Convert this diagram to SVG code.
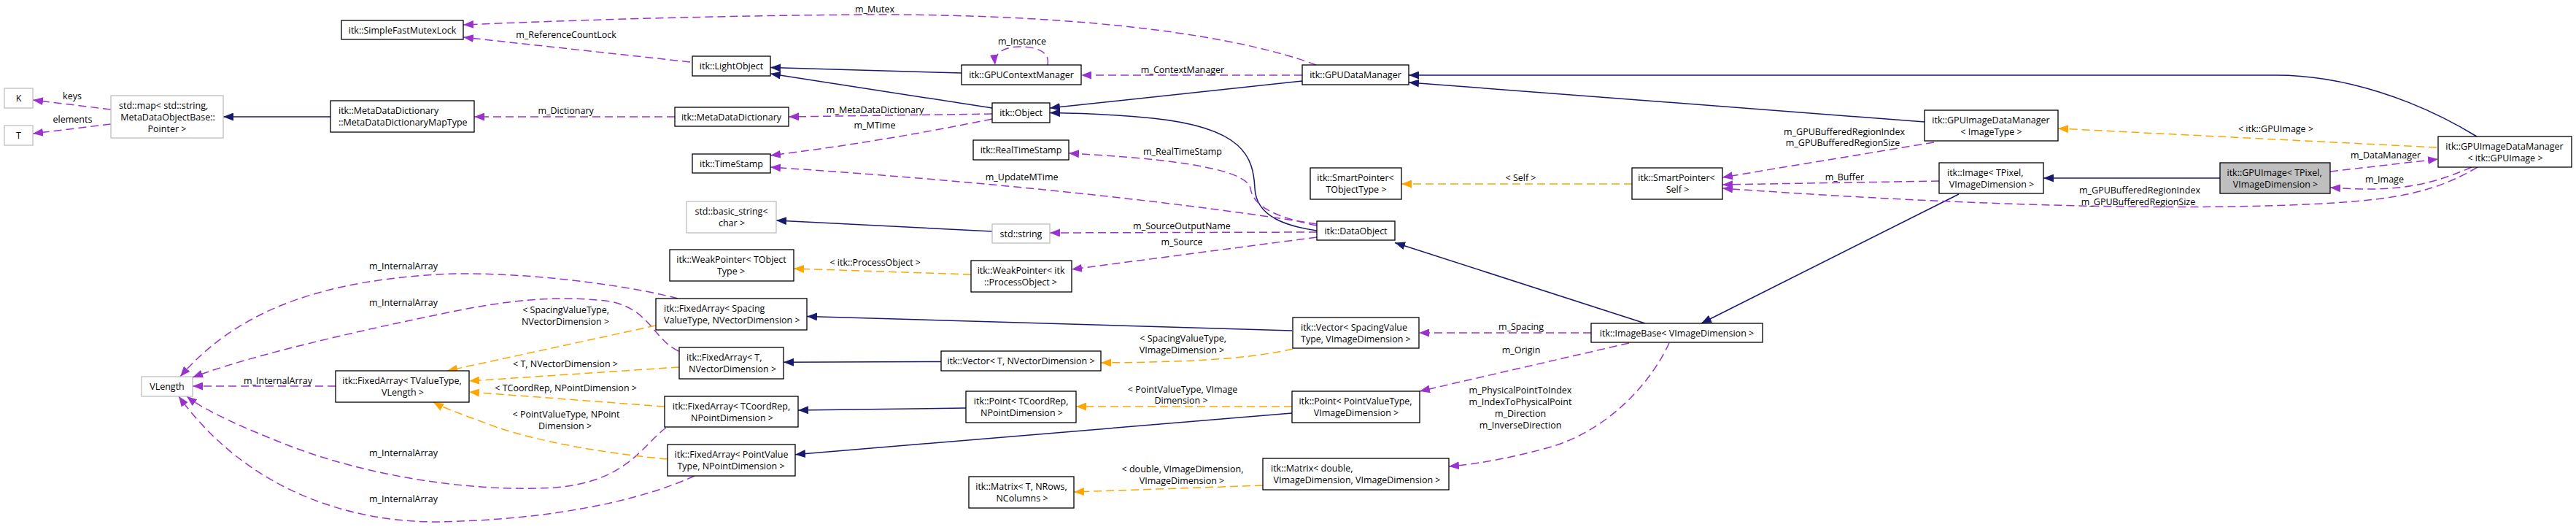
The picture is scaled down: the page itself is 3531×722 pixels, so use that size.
<svg xmlns="http://www.w3.org/2000/svg" width="3531" height="722" viewBox="0 0 3531 722">
<defs>
<style>
text{font-family:"Open Sans","DejaVu Sans",sans-serif;font-size:12.5px;fill:#000}
.m{text-anchor:middle}
.s{text-anchor:start}
.box{fill:#fff;stroke:#000;stroke-width:1.3}
.gbox{fill:#fff;stroke:#bfbfbf;stroke-width:1.3}
.sel{fill:#bfbfbf;stroke:#000;stroke-width:1.3}
.inh{fill:none;stroke:#191970;stroke-width:1.5;marker-end:url(#aN)}
.use{fill:none;stroke:#9a32cd;stroke-width:1.5;stroke-dasharray:11,6;marker-end:url(#aP)}
.tpl{fill:none;stroke:#ffa500;stroke-width:1.5;stroke-dasharray:11,6;marker-end:url(#aO)}
</style>
<marker id="aN" markerUnits="userSpaceOnUse" markerWidth="14" markerHeight="11" viewBox="0 0 14 11" refX="14" refY="5.5" orient="auto"><path d="M0,0 L14,5.5 L0,11 z" fill="#191970"/></marker>
<marker id="aP" markerUnits="userSpaceOnUse" markerWidth="14" markerHeight="11" viewBox="0 0 14 11" refX="14" refY="5.5" orient="auto"><path d="M0,0 L14,5.5 L0,11 z" fill="#9a32cd"/></marker>
<marker id="aO" markerUnits="userSpaceOnUse" markerWidth="14" markerHeight="11" viewBox="0 0 14 11" refX="14" refY="5.5" orient="auto"><path d="M0,0 L14,5.5 L0,11 z" fill="#ffa500"/></marker>
</defs>
<rect width="3531" height="722" fill="#fff"/>

<g id="connectors">
<path class="inh" d="M453,160 L306,160"/>
<path class="inh" d="M1318,100 L1056,92.5"/>
<path class="inh" d="M1360,148 L1056,101"/>
<path class="inh" d="M1785,111 L1439,148"/>
<path class="inh" d="M1805,316 C1765,310 1722,298 1720,258 C1718,215 1705,175 1580,162 C1530,157 1480,155 1439,154.5"/>
<path class="inh" d="M2638,167 L1931,113"/>
<path class="inh" d="M3395,187 C3310,135 3210,103 3120,103 L1931,103"/>
<path class="inh" d="M1360,317 L1064,302"/>
<path class="inh" d="M1771,453 L1106,433.5"/>
<path class="inh" d="M1290,495.5 L1074,496.3"/>
<path class="inh" d="M1324,559 L1094,562"/>
<path class="inh" d="M1771,566 L1090,622.7"/>
<path class="inh" d="M2255,443 L1912,332.5"/>
<path class="inh" d="M2685,266 L2332,443"/>
<path class="inh" d="M3043,244 L2801,244"/>

<path class="use" d="M152,150 L45,137"/>
<text class="m" x="99" y="136">keys</text>
<path class="use" d="M152,170 L45,183"/>
<text class="m" x="99.5" y="168">elements</text>
<path class="use" d="M925,160 L650,160"/>
<text class="m" x="775.6" y="156">m_Dictionary</text>
<path class="use" d="M946,85 L635,51"/>
<text class="m" x="776" y="52">m_ReferenceCountLock</text>
<path class="use" d="M1804,89 C1700,50 1500,20 1200,20 C1000,21 800,27 635,34"/>
<text class="m" x="1199" y="17">m_Mutex</text>
<path class="use" d="M1436,89 C1440,68 1415,64 1398,64 C1380,64 1362,70 1364,89"/>
<text class="m" x="1401" y="61">m_Instance</text>
<path class="use" d="M1785,103 L1482,103"/>
<text class="m" x="1621" y="99.5">m_ContextManager</text>
<path class="use" d="M1360,156 L1081,160"/>
<text class="m" x="1199.6" y="155">m_MetaDataDictionary</text>
<path class="use" d="M1360,163 C1300,175 1200,195 1056,213"/>
<text class="m" x="1199" y="176">m_MTime</text>
<path class="use" d="M1805,307 C1700,290 1450,255 1056,229"/>
<text class="m" x="1400.6" y="247">m_UpdateMTime</text>
<path class="use" d="M1805,309 C1745,297 1718,282 1714,258 C1708,228 1580,216 1465,210"/>
<text class="m" x="1621" y="212">m_RealTimeStamp</text>
<path class="use" d="M1805,318 L1439,319"/>
<text class="m" x="1620" y="313.5">m_SourceOutputName</text>
<path class="use" d="M1805,325 L1469,369"/>
<text class="m" x="1620" y="336">m_Source</text>
<path class="use" d="M2651,195 L2361,243"/>
<text class="m" x="2528" y="184.5">m_GPUBufferedRegionIndex</text>
<text class="m" x="2526" y="200">m_GPUBufferedRegionSize</text>
<path class="use" d="M2658,248 L2361,253"/>
<text class="m" x="2528.4" y="247">m_Buffer</text>
<path class="use" d="M3396,229 C3340,262 3290,272 3200,278 C3000,290 2700,282 2361,258"/>
<text class="m" x="2933" y="265">m_GPUBufferedRegionIndex</text>
<text class="m" x="2931" y="281">m_GPUBufferedRegionSize</text>
<path class="use" d="M3194,235 L3342,218"/>
<text class="m" x="3270" y="217">m_DataManager</text>
<path class="use" d="M3388,229 C3340,250 3300,259 3250,259 C3230,259 3212,258 3194,257"/>
<text class="m" x="3268.5" y="249.5">m_Image</text>
<path class="use" d="M2181,456 L1945,456"/>
<text class="m" x="2085" y="452">m_Spacing</text>
<path class="use" d="M2233,470 L1946,536"/>
<text class="m" x="2085" y="484">m_Origin</text>
<path class="use" d="M2288,470 C2260,530 2200,592 2120,614 C2060,630 2020,636 1986,639"/>
<text class="m" x="2084" y="539">m_PhysicalPointToIndex</text>
<text class="m" x="2084" y="555">m_IndexToPhysicalPoint</text>
<text class="m" x="2084" y="571">m_Direction</text>
<text class="m" x="2084" y="587">m_InverseDirection</text>
<path class="use" d="M929,409 C860,390 700,370 600,376 C450,385 330,420 247,516"/>
<text class="m" x="553" y="369">m_InternalArray</text>
<path class="use" d="M930,481 C895,465 890,420 830,412 C760,405 700,410 600,431 C450,462 330,492 264,517"/>
<text class="m" x="553" y="419">m_InternalArray</text>
<path class="use" d="M460,529 L264,529"/>
<text class="m" x="381" y="525.5">m_InternalArray</text>
<path class="use" d="M913,586 C880,610 860,660 760,668 C640,675 500,650 400,612 C330,585 280,562 256,543"/>
<text class="m" x="553" y="625">m_InternalArray</text>
<path class="use" d="M952,652 C880,685 760,712 600,715 C460,715 330,660 245,543"/>
<text class="m" x="553" y="687.5">m_InternalArray</text>

<path class="tpl" d="M2237,252 L1921,252"/>
<text class="m" x="2084.5" y="248">&lt; Self &gt;</text>
<path class="tpl" d="M1331,376 L1088,368"/>
<text class="m" x="1199.7" y="364">&lt; itk::ProcessObject &gt;</text>
<path class="tpl" d="M3340,202 L2821,176"/>
<text class="m" x="3119.5" y="181">&lt; itk::GPUImage &gt;</text>
<path class="tpl" d="M899,446 L613,508"/>
<text class="m" x="775.6" y="429">&lt; SpacingValueType,</text>
<text class="m" x="775" y="445">NVectorDimension &gt;</text>
<path class="tpl" d="M931,503 L643,522"/>
<text class="m" x="775" y="503">&lt; T, NVectorDimension &gt;</text>
<path class="tpl" d="M911,557 L643,537"/>
<text class="m" x="775.6" y="536">&lt; TCoordRep, NPointDimension &gt;</text>
<path class="tpl" d="M915,629 C820,620 740,605 680,585 C640,570 610,560 594,551"/>
<text class="m" x="776" y="572">&lt; PointValueType, NPoint</text>
<text class="m" x="774.5" y="588">Dimension &gt;</text>
<path class="tpl" d="M1772,478 C1720,490 1650,496 1509,497"/>
<text class="m" x="1621.7" y="468">&lt; SpacingValueType,</text>
<text class="m" x="1620" y="484">VImageDimension &gt;</text>
<path class="tpl" d="M1771,557 L1475,557"/>
<text class="m" x="1621" y="537.5">&lt; PointValueType, VImage</text>
<text class="m" x="1619" y="553">Dimension &gt;</text>
<path class="tpl" d="M1731,665 L1472,674"/>
<text class="m" x="1621" y="647">&lt; double, VImageDimension,</text>
<text class="m" x="1620" y="663">VImageDimension &gt;</text>
</g>

<g id="n_K"><rect class="gbox" x="6" y="121" width="39" height="27"/><text class="m" x="25.5" y="139">K</text></g>
<g id="n_T"><rect class="gbox" x="6" y="172" width="39" height="27"/><text class="m" x="25.5" y="190">T</text></g>
<g id="n_map"><rect class="gbox" x="152" y="131" width="154" height="58"/><text class="s" x="163" y="149">std::map&lt; std::string,</text><text class="m" x="230" y="165">MetaDataObjectBase::</text><text class="m" x="229" y="181">Pointer &gt;</text></g>
<g id="n_VLength"><rect class="gbox" x="194" y="516" width="70" height="27"/><text class="m" x="229" y="534">VLength</text></g>
<g id="n_mutex"><rect class="box" x="468" y="28" width="167" height="26"/><text class="m" x="551.5" y="46">itk::SimpleFastMutexLock</text></g>
<g id="n_maptype"><rect class="box" x="453" y="138" width="197" height="43"/><text class="s" x="464" y="156">itk::MetaDataDictionary</text><text class="s" x="464" y="172">::MetaDataDictionaryMapType</text></g>
<g id="n_fa_tv"><rect class="box" x="460" y="508" width="183" height="43"/><text class="m" x="551" y="526">itk::FixedArray&lt; TValueType,</text><text class="m" x="552" y="542">VLength &gt;</text></g>
<g id="n_light"><rect class="box" x="949" y="77" width="107" height="27"/><text class="m" x="1002.5" y="95">itk::LightObject</text></g>
<g id="n_mdd"><rect class="box" x="925" y="147" width="156" height="26"/><text class="m" x="1002.5" y="165">itk::MetaDataDictionary</text></g>
<g id="n_ts"><rect class="box" x="949" y="211" width="107" height="26"/><text class="m" x="1002.5" y="229">itk::TimeStamp</text></g>
<g id="n_bstr"><rect class="gbox" x="941" y="276" width="123" height="43"/><text class="m" x="1002.5" y="294">std::basic_string&lt;</text><text class="m" x="1003" y="310">char &gt;</text></g>
<g id="n_wp_t"><rect class="box" x="918" y="342" width="170" height="43"/><text class="m" x="1002.5" y="360">itk::WeakPointer&lt; TObject</text><text class="m" x="1002" y="376">Type &gt;</text></g>
<g id="n_fa_sp"><rect class="box" x="899" y="409" width="207" height="43"/><text class="s" x="910" y="427">itk::FixedArray&lt; Spacing</text><text class="s" x="910" y="443">ValueType, NVectorDimension &gt;</text></g>
<g id="n_fa_t"><rect class="box" x="931" y="476" width="143" height="43"/><text class="s" x="941" y="494">itk::FixedArray&lt; T,</text><text class="s" x="944" y="510">NVectorDimension &gt;</text></g>
<g id="n_fa_cr"><rect class="box" x="911" y="543" width="183" height="42"/><text class="m" x="1002.5" y="561">itk::FixedArray&lt; TCoordRep,</text><text class="m" x="1003.5" y="577">NPointDimension &gt;</text></g>
<g id="n_fa_pv"><rect class="box" x="915" y="609" width="175" height="43"/><text class="m" x="1002.5" y="627">itk::FixedArray&lt; PointValue</text><text class="m" x="1002" y="643">Type, NPointDimension &gt;</text></g>
<g id="n_gcm"><rect class="box" x="1318" y="89" width="164" height="27"/><text class="m" x="1400" y="107">itk::GPUContextManager</text></g>
<g id="n_obj"><rect class="box" x="1360" y="141" width="79" height="27"/><text class="m" x="1399.5" y="159">itk::Object</text></g>
<g id="n_rts"><rect class="box" x="1334" y="192" width="131" height="27"/><text class="m" x="1399.5" y="210">itk::RealTimeStamp</text></g>
<g id="n_str"><rect class="gbox" x="1360" y="307" width="79" height="26"/><text class="m" x="1399.5" y="325">std::string</text></g>
<g id="n_wp_po"><rect class="box" x="1331" y="357" width="138" height="43"/><text class="m" x="1399.6" y="375">itk::WeakPointer&lt; itk</text><text class="m" x="1399" y="391">::ProcessObject &gt;</text></g>
<g id="n_vec_t"><rect class="box" x="1290" y="481" width="219" height="27"/><text class="m" x="1399.5" y="499">itk::Vector&lt; T, NVectorDimension &gt;</text></g>
<g id="n_pt_cr"><rect class="box" x="1324" y="536" width="151" height="43"/><text class="m" x="1399.6" y="554">itk::Point&lt; TCoordRep,</text><text class="m" x="1400.5" y="570">NPointDimension &gt;</text></g>
<g id="n_mat_t"><rect class="box" x="1328" y="653" width="144" height="43"/><text class="m" x="1400" y="671">itk::Matrix&lt; T, NRows,</text><text class="m" x="1401" y="687">NColumns &gt;</text></g>
<g id="n_gdm"><rect class="box" x="1785" y="89" width="146" height="27"/><text class="m" x="1858" y="107">itk::GPUDataManager</text></g>
<g id="n_sp_t"><rect class="box" x="1796" y="230" width="125" height="43"/><text class="m" x="1858" y="248">itk::SmartPointer&lt;</text><text class="m" x="1859" y="264">TObjectType &gt;</text></g>
<g id="n_do"><rect class="box" x="1805" y="303" width="107" height="26"/><text class="m" x="1858.5" y="321">itk::DataObject</text></g>
<g id="n_vec_sp"><rect class="box" x="1772" y="435" width="173" height="42"/><text class="s" x="1783" y="453">itk::Vector&lt; SpacingValue</text><text class="s" x="1783" y="469">Type, VImageDimension &gt;</text></g>
<g id="n_pt_pv"><rect class="box" x="1771" y="536" width="175" height="43"/><text class="m" x="1858" y="554">itk::Point&lt; PointValueType,</text><text class="m" x="1859" y="570">VImageDimension &gt;</text></g>
<g id="n_mat_d"><rect class="box" x="1731" y="628" width="255" height="43"/><text class="s" x="1742" y="646">itk::Matrix&lt; double,</text><text class="m" x="1860" y="662">VImageDimension, VImageDimension &gt;</text></g>
<g id="n_sp_s"><rect class="box" x="2237" y="230" width="124" height="43"/><text class="m" x="2298" y="248">itk::SmartPointer&lt;</text><text class="m" x="2299.5" y="264">Self &gt;</text></g>
<g id="n_ib"><rect class="box" x="2181" y="443" width="235" height="26"/><text class="m" x="2298.5" y="461">itk::ImageBase&lt; VImageDimension &gt;</text></g>
<g id="n_gidm_t"><rect class="box" x="2638" y="151" width="183" height="42"/><text class="m" x="2729" y="169">itk::GPUImageDataManager</text><text class="m" x="2729.5" y="185">&lt; ImageType &gt;</text></g>
<g id="n_img"><rect class="box" x="2658" y="223" width="143" height="42"/><text class="s" x="2669" y="241">itk::Image&lt; TPixel,</text><text class="m" x="2730" y="257">VImageDimension &gt;</text></g>
<g id="n_gpuimg"><rect class="sel" x="3043" y="223" width="151" height="42"/><text class="m" x="3117.6" y="241">itk::GPUImage&lt; TPixel,</text><text class="m" x="3119" y="257">VImageDimension &gt;</text></g>
<g id="n_gidm_g"><rect class="box" x="3342" y="187" width="183" height="42"/><text class="m" x="3433" y="205">itk::GPUImageDataManager</text><text class="m" x="3434" y="221">&lt; itk::GPUImage &gt;</text></g>
</svg>
